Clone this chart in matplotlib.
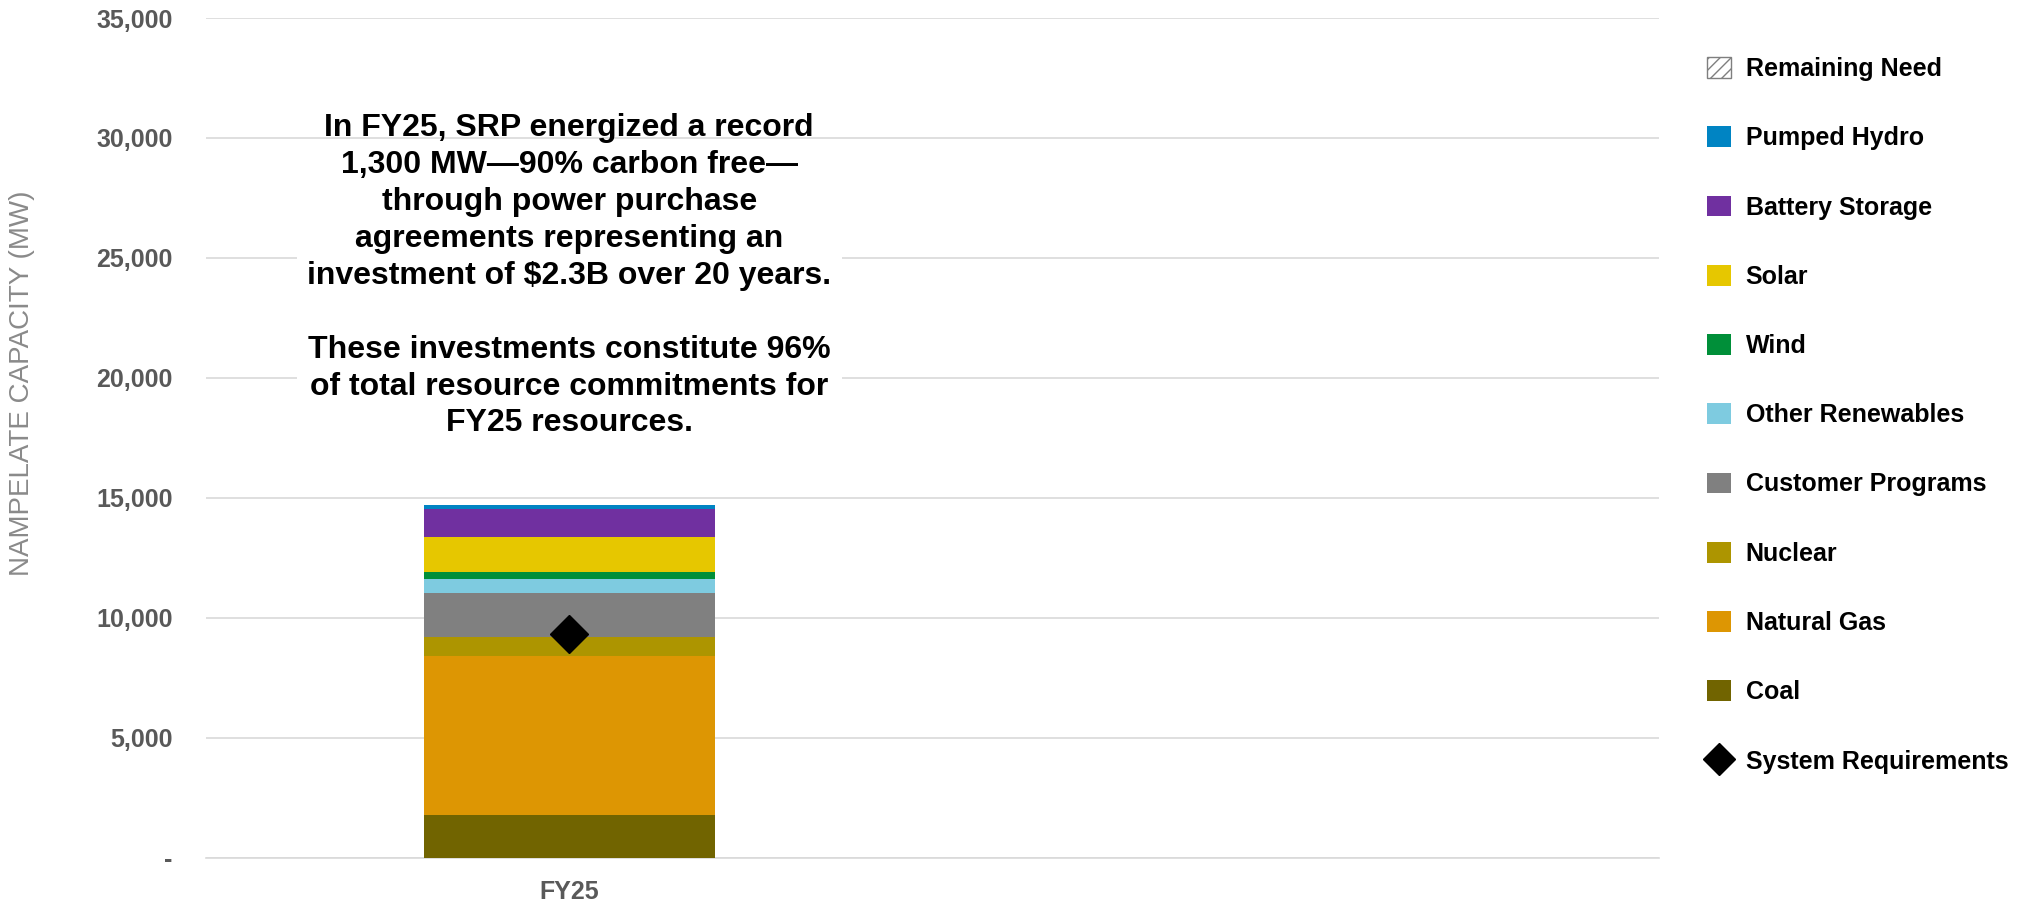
import matplotlib
matplotlib.use("Agg")
import matplotlib.pyplot as plt
from matplotlib.patches import Patch, Rectangle
from matplotlib.lines import Line2D
from matplotlib.ticker import FuncFormatter, MultipleLocator

plt.rcParams['font.family'] = ['Liberation Sans', 'DejaVu Sans']

# data, bottom of the stack first
categories = ['FY25']
series_names = ['Coal', 'Natural Gas', 'Nuclear', 'Customer Programs', 'Other Renewables',
                'Wind', 'Solar', 'Battery Storage', 'Pumped Hydro', 'Remaining Need']
coal = [1780]
natural_gas = [6600]
nuclear = [820]
customer_programs = [1840]
other_renewables = [580]
wind = [290]
solar = [1460]
battery_storage = [1170]
pumped_hydro = [170]
remaining_need = [0]
system_requirements = [9300]

series_values = [coal, natural_gas, nuclear, customer_programs, other_renewables,
                 wind, solar, battery_storage, pumped_hydro, remaining_need]
colors = ['#716400', '#DD9603', '#AD9500', '#808080', '#7ECBE0',
          '#008F39', '#E6C700', '#7030A0', '#0084C3', 'white']

note = ("In FY25, SRP energized a record\n"
        "1,300 MW\u201490% carbon free\u2014\n"
        "through power purchase\n"
        "agreements representing an\n"
        "investment of $2.3B over 20 years.\n"
        "\n"
        "These investments constitute 96%\n"
        "of total resource commitments for\n"
        "FY25 resources.")

fig = plt.figure(figsize=(20.24, 9), dpi=100)
ax = fig.add_axes([206 / 2024, 1 - 857.5 / 900, (1659 - 206) / 2024, (857.5 - 18) / 900])

x = list(range(len(categories)))
bottom = [0] * len(categories)
for name, vals, col in zip(series_names, series_values, colors):
    if name == 'Remaining Need':
        ax.bar(x, vals, 0.4, bottom=bottom, color='white', edgecolor='#7f7f7f',
               hatch='///', linewidth=0, zorder=3)
    else:
        ax.bar(x, vals, 0.4, bottom=bottom, color=col, linewidth=0, zorder=3)
    bottom = [bt + v for bt, v in zip(bottom, vals)]

ax.plot(x, system_requirements, linestyle='none', marker='D', markersize=19,
        color='black', zorder=5)

ax.set_xlim(-0.5, 1.5)
ax.set_ylim(0, 35000)
ax.yaxis.set_major_locator(MultipleLocator(5000))
ax.yaxis.set_major_formatter(FuncFormatter(lambda v, p: '-' if v == 0 else f'{int(v):,}'))
ax.grid(axis='y', color='#d9d9d9', linewidth=1.2, zorder=0)
ax.set_axisbelow(True)
for s in ['top', 'right', 'left']:
    ax.spines[s].set_visible(False)
ax.spines['bottom'].set_color('#d9d9d9')
ax.spines['bottom'].set_linewidth(1.2)

ax.set_xticks(x)
ax.set_xticklabels(categories)
ax.tick_params(axis='both', length=0, labelcolor='#595959', labelsize=18)
ax.tick_params(axis='y', pad=24)
ax.tick_params(axis='x', pad=16)
for lbl in ax.get_xticklabels() + ax.get_yticklabels():
    lbl.set_fontweight('bold')

fig.text(22 / 2024, 1 - 383 / 900, 'NAMPELATE CAPACITY (MW)', rotation=90,
         ha='center', va='center', fontsize=20, color='#8a8a8a')

# white box behind the note
ax.add_patch(Rectangle((-0.375, 17000), 0.75, 12500, facecolor='white',
                       edgecolor='none', zorder=2))
ax.text(0, 24250, note, ha='center', va='center', fontsize=23, fontweight='bold',
        linespacing=1.30, color='black', zorder=6)

handles = [Patch(facecolor='white', edgecolor='#7f7f7f', hatch='///', linewidth=1)]
labels = ['Remaining Need']
for name, col in zip(series_names[-2::-1], colors[-2::-1]):
    handles.append(Patch(facecolor=col, edgecolor='none'))
    labels.append(name)
handles.append(Line2D([], [], linestyle='none', marker='D', markersize=16, color='black'))
labels.append('System Requirements')

fig.legend(handles, labels, loc='upper left', bbox_to_anchor=(1707 / 2024, 1 - 57 / 900),
           frameon=False, prop={'weight': 'bold', 'size': 18},
           handlelength=0.95, handleheight=0.9, handletextpad=0.6,
           labelspacing=1.81, borderaxespad=0, borderpad=0)

fig.savefig('out.png', dpi=100)
